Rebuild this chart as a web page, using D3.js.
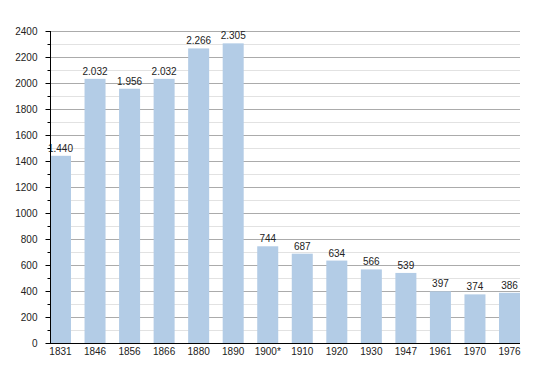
<!DOCTYPE html>
<html>
<head>
<meta charset="utf-8">
<script src="https://cdn.jsdelivr.net/npm/d3@7"></script>
<style>
  body { margin: 0; background: #fff; }
  text { font-family: "Liberation Sans", Arial, sans-serif; font-size: 10px; fill: #222; }
</style>
</head>
<body>
<script>
// ---------- data ----------
const years = ["1831", "1846", "1856", "1866", "1880", "1890", "1900*", "1910", "1920", "1930", "1947", "1961", "1970", "1976"];
const population = [1440, 2032, 1956, 2032, 2266, 2305, 744, 687, 634, 566, 539, 397, 374, 386];
const yMajorTicks = [0, 200, 400, 600, 800, 1000, 1200, 1400, 1600, 1800, 2000, 2200, 2400];

const width = 550, height = 373;
const plotLeft = 50, plotRight = 520, plotTop = 31, plotBottom = 343;

const svg = d3.select("body").append("svg").attr("width", width).attr("height", height);

const x = d3.scaleBand().domain(years).range([plotLeft, plotRight]).paddingInner(0.392).paddingOuter(0);
const y = d3.scaleLinear().domain([0, 2400]).range([plotBottom, plotTop]);

const fmt = d3.formatLocale({ decimal: ",", thousands: ".", grouping: [3], currency: ["", ""] }).format(",d");

// ---------- grid ----------
const minorTicks = d3.range(100, 2400, 200);
svg.append("g").selectAll("line").data(minorTicks).join("line")
  .attr("x1", plotLeft).attr("x2", plotRight)
  .attr("y1", d => y(d) + 0.5).attr("y2", d => y(d) + 0.5)
  .attr("stroke", "#e2e2e2");
svg.append("g").selectAll("line").data(yMajorTicks.filter(d => d > 0)).join("line")
  .attr("x1", plotLeft).attr("x2", plotRight)
  .attr("y1", d => y(d) + 0.5).attr("y2", d => y(d) + 0.5)
  .attr("stroke", "#ababab");

// ---------- bars ----------
svg.append("g").selectAll("rect").data(years).join("rect")
  .attr("x", d => x(d))
  .attr("width", x.bandwidth())
  .attr("y", (d, i) => y(population[i]))
  .attr("height", (d, i) => plotBottom - y(population[i]))
  .attr("fill", "#b3cce6");

svg.append("g").selectAll("text").data(years).join("text")
  .attr("x", d => x(d) + x.bandwidth() / 2)
  .attr("y", (d, i) => y(population[i]) - 4)
  .attr("text-anchor", "middle")
  .text((d, i) => fmt(population[i]));

// ---------- axes ----------
const yAxis = svg.append("g").attr("transform", `translate(${plotLeft + 0.5},0)`);
yAxis.selectAll(".minor").data(minorTicks).join("line")
  .attr("x1", -3).attr("x2", 0)
  .attr("y1", d => y(d) + 0.5).attr("y2", d => y(d) + 0.5)
  .attr("stroke", "#000");
yAxis.selectAll(".major").data(yMajorTicks).join("line")
  .attr("x1", -5).attr("x2", 0)
  .attr("y1", d => y(d) + 0.5).attr("y2", d => y(d) + 0.5)
  .attr("stroke", "#000");
yAxis.selectAll("text").data(yMajorTicks).join("text")
  .attr("x", -13).attr("y", d => y(d)).attr("dy", "0.35em")
  .attr("text-anchor", "end")
  .text(d => d);
yAxis.append("line").attr("y1", plotTop).attr("y2", plotBottom + 0.5).attr("stroke", "#000");

svg.append("line").attr("x1", plotLeft).attr("x2", plotRight)
  .attr("y1", plotBottom + 0.5).attr("y2", plotBottom + 0.5).attr("stroke", "#000");

svg.append("g").selectAll("text").data(years).join("text")
  .attr("x", d => x(d) + x.bandwidth() / 2)
  .attr("y", 355)
  .attr("text-anchor", "middle")
  .text(d => d);
</script>
</body>
</html>
